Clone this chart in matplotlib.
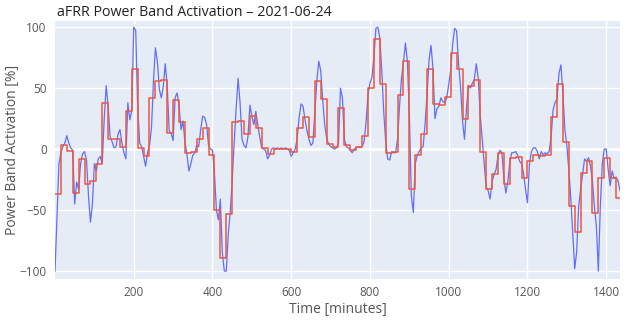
import matplotlib
matplotlib.use("Agg")
import matplotlib.pyplot as plt
import numpy as np

plt.rcParams['font.family'] = ['Open Sans', 'DejaVu Sans']

# power band activation [%], one value every 5 minutes (12 per hour)
activation = [
    -100, -55, -12, -3, 2, 5, 11, 5, 1, -1, -45, -27,
    -33, -12, -4, -2, -9, -38, -60, -45, -12, -18, -8, -6,
    -12, 25, 52, 35, 10, 6, 1, 2, 12, 16, 5, -3,
    -8, 38, 24, 32, 100, 97, 35, 5, 2, -6, -14, -3,
    3, 17, 55, 83, 72, 49, 42, 51, 70, 52, 15, 13,
    7, 42, 46, 36, 16, 23, 6, -4, -18, -12, -5, -3,
    3, 2, 16, 27, 26, 20, 3, 0, -1, -20, -50, -58,
    -41, -85, -100, -100, -70, -52, -26, 5, 33, 58, 38, 8,
    3, 1, 10, 36, 27, 20, 31, 20, 10, 1, 0, -1,
    -8, -5, 0, 1, 0, 1, 0, 1, 0, 1, 0, -1,
    -6, -3, 0, 8, 26, 37, 35, 24, 15, 8, 3, 5,
    30, 56, 72, 64, 40, 20, 9, 4, 2, 1, 0, 1,
    4, 50, 42, 8, 2, 1, -1, -3, 0, 1, 2, 1,
    2, 6, 22, 45, 54, 59, 75, 99, 100, 91, 64, 30,
    6, -8, -9, -2, -3, -3, 8, 35, 58, 71, 87, 72,
    28, -38, -52, -12, -5, -2, 1, 2, 21, 45, 73, 85,
    66, 25, 33, 35, 42, 39, 38, 42, 53, 65, 86, 99,
    97, 70, 51, 23, 8, 33, 52, 50, 54, 57, 70, 58,
    28, 8, -12, -31, -34, -41, -27, -21, -17, -6, -1, -3,
    -23, -36, -27, -11, -3, -3, -2, -5, -10, -12, -20, -33,
    -44, -12, -2, 1, 1, -2, -8, -2, -5, -3, -4, -2,
    10, 32, 38, 41, 62, 69, 45, 16, 3, -17, -40, -69,
    -98, -84, -47, -33, -21, -8, -10, -7, -14, -26, -47, -63,
    -100, -47, -12, 0, 0, -17, -30, -18, -24, -23, -26, -34,
]
minutes = np.arange(0, 1440, 5)

# 15 minute band values
band_15min = [
    -37, 3, -1.5, -36, -8, -29, -26, -12,
    38, 8, 8.5, 1.5, 31, 66, 1, -6,
    42, 56, 57, 13, 40, 22, -3, -2,
    8.5, 17, -5, -50, -89, -53, 22, 23,
    12.5, 27.5, 17, 1, -4, 0, 0, 0,
    -2, 17, 26, 10, 55.5, 41, 4, 1.5,
    34, 3, -1, 1.5, 11, 50, 90, 53.5,
    -3.3, -2.5, 44.5, 72, -32.5, -4.6, 12.3, 66,
    37, 36, 42.6, 79, 65.6, 24.6, 52, 57,
    -2, -33, -20.5, -3, -29, -7, -6.5, -24,
    -9.6, -4.6, -5.5, -4.6, 26, 53, 5.5, -47,
    -68, -20, -10, -52.5, -24, -7, -24, -40,
]
band_minutes = np.arange(0, 1440, 15)

fig = plt.figure(figsize=(6.28, 3.22), dpi=100)
ax = fig.add_axes([55/628, 1 - 279/322, 565/628, 258/322])
ax.set_facecolor('#E5ECF6')

ax.plot(minutes, activation, color='#636EFA', linewidth=0.9, zorder=3)
ax.step(np.append(band_minutes, 1440), np.append(band_15min, band_15min[-1]),
        where='post', color='#EF553B', linewidth=1.1, zorder=4)

ax.set_xlim(0, 1435)
ax.set_ylim(-106.5, 105)
ax.set_xticks([200, 400, 600, 800, 1000, 1200, 1400])
ax.set_yticks([-100, -50, 0, 50, 100])
ax.grid(True, color='white', linewidth=1)
ax.axhline(0, color='white', linewidth=2, zorder=1)
ax.set_axisbelow(True)
for s in ax.spines.values():
    s.set_visible(False)
ax.tick_params(length=0, labelsize=8.5, colors='#555555')
ax.tick_params(axis='y', pad=6)
ax.tick_params(axis='x', pad=5)

ax.set_xlabel('Time [minutes]', fontsize=10, color='#555555')
ax.set_ylabel('Power Band Activation [%]', fontsize=10, color='#555555')
ax.xaxis.set_label_coords(0.5, -0.088)
ax.yaxis.set_label_coords(-0.062, 0.5)

fig.text(57/628, 1 - 12/322, 'aFRR Power Band Activation \u2013 2021-06-24',
         fontsize=10.3, color='#222222', ha='left', va='center')

fig.savefig('out.png', dpi=100)
